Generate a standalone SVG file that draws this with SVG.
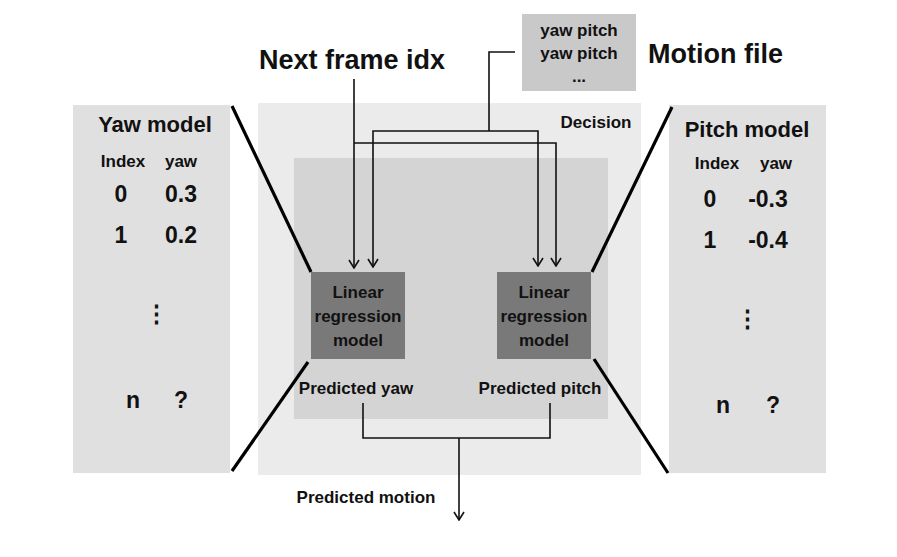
<svg xmlns="http://www.w3.org/2000/svg" width="897" height="557" viewBox="0 0 897 557">
<defs>
<style>
text{font-family:"Liberation Sans",Arial,sans-serif;font-weight:bold;fill:#111;text-anchor:middle}
.big{font-size:27px;text-anchor:start}
.t17{font-size:17px}
.num{font-size:23px}
.ttl{font-size:22px}
.conn{fill:none;stroke:#111;stroke-width:1.6}
.zoom{stroke:#000;stroke-width:3.2;fill:none}
</style>
<marker id="ah" viewBox="0 0 12 12" refX="11" refY="6" markerWidth="12" markerHeight="12" markerUnits="userSpaceOnUse" orient="auto-start-reverse">
<path d="M3,1 L11,6 L3,11" fill="none" stroke="#111" stroke-width="1.6"/>
</marker>
</defs>
<rect width="897" height="557" fill="#fff"/>

<g id="decision">
<rect x="258" y="103" width="383" height="372" fill="#ebebeb"/>
<rect x="294" y="158" width="314" height="261" fill="#d4d4d4"/>
<text class="t17" x="596" y="128" font-size="18">Decision</text>
</g>

<g id="motion-file">
<rect x="522" y="14" width="114" height="77" fill="#c9c9c9"/>
<text class="t17" x="579" y="36">yaw pitch</text>
<text class="t17" x="579" y="59">yaw pitch</text>
<text class="t17" x="579" y="82">...</text>
<text class="big" x="648" y="63">Motion file</text>
</g>

<g id="next-frame">
<text class="big" x="259" y="69">Next frame idx</text>
</g>

<g id="yaw-model">
<rect x="73" y="105" width="157" height="368" fill="#e0e0e0"/>
<text class="ttl" x="155" y="132">Yaw model</text>
<text class="t17" x="123" y="167">Index</text>
<text class="t17" x="181" y="167">yaw</text>
<text class="num" x="121" y="202">0</text>
<text class="num" x="181" y="202">0.3</text>
<text class="num" x="121" y="243">1</text>
<text class="num" x="181" y="243">0.2</text>
<text class="num" x="156" y="321">⋮</text>
<text class="num" x="133" y="408">n</text>
<text class="num" x="181" y="408">?</text>
</g>

<g id="pitch-model">
<rect x="669" y="105" width="157" height="368" fill="#e0e0e0"/>
<text class="ttl" x="747" y="137">Pitch model</text>
<text class="t17" x="717" y="169">Index</text>
<text class="t17" x="776" y="169">yaw</text>
<text class="num" x="710" y="207">0</text>
<text class="num" x="768" y="207">-0.3</text>
<text class="num" x="710" y="248">1</text>
<text class="num" x="768" y="248">-0.4</text>
<text class="num" x="747" y="326">⋮</text>
<text class="num" x="723" y="413">n</text>
<text class="num" x="773" y="413">?</text>
</g>

<g id="lr-yaw">
<rect x="311" y="272" width="94" height="87" fill="#797979"/>
<text class="t17" x="358" y="298">Linear</text>
<text class="t17" x="358" y="322">regression</text>
<text class="t17" x="358" y="346">model</text>
<text class="t17" x="356" y="394">Predicted yaw</text>
</g>

<g id="lr-pitch">
<rect x="497" y="272" width="94" height="87" fill="#797979"/>
<text class="t17" x="544" y="298">Linear</text>
<text class="t17" x="544" y="322">regression</text>
<text class="t17" x="544" y="346">model</text>
<text class="t17" x="540" y="394">Predicted pitch</text>
</g>

<g id="zoom-lines">
<line class="zoom" x1="232" y1="106" x2="311" y2="272"/>
<line class="zoom" x1="308" y1="362" x2="232" y2="471"/>
<line class="zoom" x1="672" y1="107" x2="592" y2="272"/>
<line class="zoom" x1="594" y1="359" x2="668" y2="473"/>
</g>

<g id="connectors">
<path class="conn" d="M354,79 V268" marker-end="url(#ah)"/>
<path class="conn" d="M354,143 H556 V266" marker-end="url(#ah)"/>
<path class="conn" d="M515,52 H489 V131"/>
<path class="conn" d="M373,267 V131 H538 V266" marker-start="url(#ah)" marker-end="url(#ah)"/>
<path class="conn" d="M363,403 V438 H550 V403"/>
<path class="conn" d="M459,438 V520" marker-end="url(#ah)"/>
<text class="t17" x="366" y="503">Predicted motion</text>
</g>
</svg>
